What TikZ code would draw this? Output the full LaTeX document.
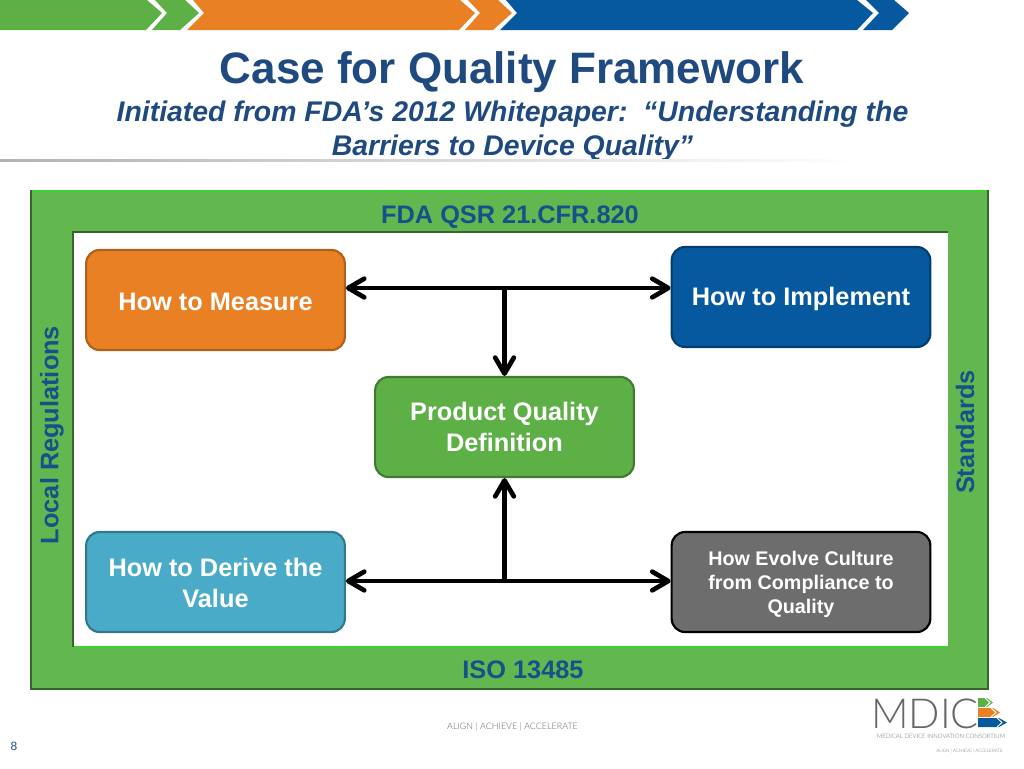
\documentclass[tikz,border=0pt]{standalone}
\usepackage{fontspec}
\setmainfont{Liberation Sans}
\newfontfamily\logofont[UprightFont=* Light]{Lato}
\usetikzlibrary{arrows.meta}
\definecolor{framegreen}{HTML}{63B74F}
\definecolor{bandgreen}{HTML}{5DB046}
\definecolor{bandorange}{HTML}{E98024}
\definecolor{bandblue}{HTML}{06599F}
\definecolor{titleblue}{HTML}{1F4A80}
\definecolor{labelblue}{HTML}{17508A}
\definecolor{tealbox}{HTML}{4AABC8}
\definecolor{greybox}{HTML}{6D6D6D}
\tikzset{
  quality/.style={draw,line width=1.6pt,rounded corners=10pt,text=white,align=center,
    font=\bfseries\fontsize{19}{23.25}\selectfont,minimum width=194pt,minimum height=75pt,inner sep=0pt},
  framelabel/.style={text=labelblue,font=\bfseries\fontsize{19}{22}\selectfont,inner sep=0pt},
  barb/.style={line width=3.5pt,{Straight Barb[length=12pt,width=14pt,round]}-{Straight Barb[length=12pt,width=14pt,round]}},
  barbend/.style={line width=3.5pt,-{Straight Barb[length=12pt,width=14pt,round]}},
  tagline/.style={text=black!60,inner sep=0pt}
}
\newcommand{\dropline}[1]{\rule{0pt}{#1}}
\begin{document}
\begin{tikzpicture}[x=0.75pt,y=-0.75pt]
\useasboundingbox (0,0) rectangle (1024,768);
% top band
\fill[bandgreen] (0,0) -- (147,0) -- (162,13) -- (146,30) -- (0,30) -- cycle;
\fill[bandgreen] (155,0) -- (185,0) -- (199,13) -- (180,30) -- (152,30) -- (167,13) -- cycle;
\fill[bandorange] (193,0) -- (460,0) -- (475,13) -- (459,30) -- (187,30) -- (204,13) -- cycle;
\fill[bandorange] (468,0) -- (498,0) -- (512,13) -- (493,30) -- (465,30) -- (480,13) -- cycle;
\fill[bandblue] (506,0) -- (857,0) -- (873,13) -- (857,30) -- (500,30) -- (517,13) -- cycle;
\fill[bandblue] (866,0) -- (894,0) -- (909,13) -- (892,30) -- (863,30) -- (879,13) -- cycle;
% heading
\node[text=titleblue,font=\bfseries\fontsize{33}{38}\selectfont,inner sep=0pt] (heading) at (512,72) {Case for Quality Framework};
\node[text=titleblue,font=\bfseries\itshape\fontsize{21.3}{25.5}\selectfont,align=center,inner sep=0pt] (subheading) at (512.5,131)
  {Initiated from FDA’s 2012 Whitepaper:\ \ “Understanding the\\Barriers to Device Quality”};
\fill[left color=black!30,right color=white] (0,159.5) rectangle (860,161);
% frame
\fill[framegreen,even odd rule] (31,190) rectangle (988,689) (73,232) rectangle (948,647);
\draw[green!35!framegreen,line width=1.5pt] (32,191) -- (987,191);
\draw[green!35!framegreen,line width=1.5pt] (73,647) -- (948,647);
\draw[black!45!framegreen,line width=1.5pt] (31,190) -- (31,689) -- (988,689) -- (988,190);
\draw[black!45!framegreen,line width=1.5pt] (73,647) -- (73,232) -- (948,232);
\node[framelabel] (fda) at (510,217) {FDA QSR 21.CFR.820};
\node[framelabel] (iso) at (523,670) {ISO 13485};
\node[framelabel,rotate=90] (local) at (52,435) {Local Regulations};
\node[framelabel,rotate=90] (standards) at (965,432) {Standards};
% boxes
\node[quality,fill=bandorange,draw=bandorange!75!black] (measure) at (215.5,300) {\dropline{15.4pt}How to Measure};
\node[quality,fill=bandblue,draw=bandblue!70!black] (implement) at (801,297) {\dropline{17pt}How to Implement};
\node[quality,fill=bandgreen,draw=bandgreen!70!black] (definition) at (504.5,427) {Product Quality\\Definition};
\node[quality,fill=tealbox,draw=tealbox!70!black] (derive) at (215.5,582) {\dropline{15.4pt}How to Derive the\\Value};
\node[quality,fill=greybox,draw=black,font=\bfseries\fontsize{14.8}{18}\selectfont] (culture) at (801,582) {\dropline{13.9pt}How Evolve Culture\\from Compliance to\\Quality};
% connectors
\coordinate (topjoin) at (504.5,288);
\coordinate (lowjoin) at (504.5,581);
\draw[barb] (measure.east |- topjoin) -- (implement.west |- topjoin);
\draw[barb] (derive.east |- lowjoin) -- (culture.west |- lowjoin);
\draw[barbend] (topjoin) -- (definition.north);
\draw[barbend] (lowjoin) -- (definition.south);
% footer
\node[tagline,font=\logofont\fontsize{6.7}{8}\selectfont] (align) at (512.5,727) {ALIGN | ACHIEVE | ACCELERATE};
\node[text=black!60,font=\logofont\fontsize{31}{31}\selectfont,inner sep=0pt,text height=23pt,text depth=0pt] (mdic) at (925,713) {MDIC};
\fill[bandgreen] (978,698) -- (987,698) -- (993,702.5) -- (987,707) -- (978,707) -- cycle;
\fill[bandorange] (978,708) -- (993,708) -- (1000,712.5) -- (993,717) -- (978,717) -- cycle;
\fill[bandblue] (978,718) -- (999,718) -- (1007,722.5) -- (999,727) -- (978,727) -- cycle;
\draw[white,line width=0.7pt] (985,698) -- (990,702.5) -- (985,707) (991,708) -- (996,712.5) -- (991,717) (997,718) -- (1002,722.5) -- (997,727);
\node[tagline,font=\logofont\fontsize{4.5}{5}\selectfont] (consortium) at (941,736) {MEDICAL DEVICE INNOVATION CONSORTIUM};
\node[tagline,font=\logofont\fontsize{3.4}{4}\selectfont] (smallalign) at (969.5,751) {ALIGN | ACHIEVE | ACCELERATE};
\node[text=labelblue,font=\fontsize{9}{11}\selectfont,inner sep=0pt] (pagenum) at (14,746) {8};
\end{tikzpicture}
\end{document}
